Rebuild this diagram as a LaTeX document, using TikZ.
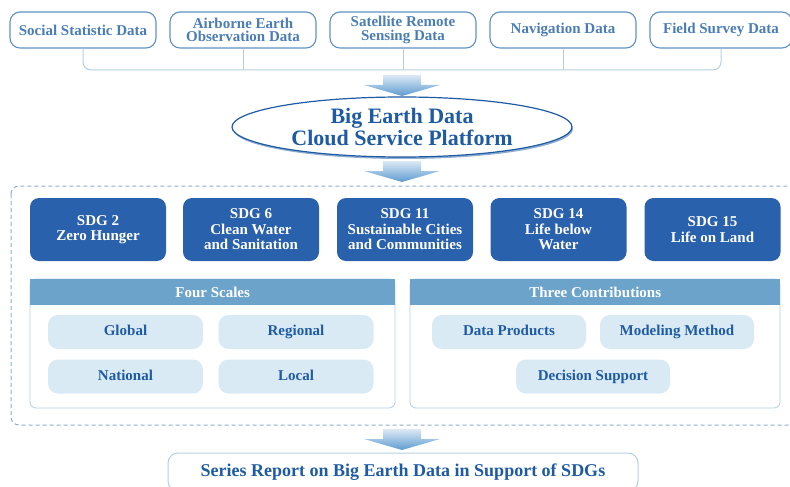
\documentclass[tikz,border=0pt]{standalone}
\usepackage{fontspec}
\setmainfont{Liberation Serif}
\usetikzlibrary{arrows.meta,shapes.geometric,shadows,calc}
\definecolor{OutBlue}{HTML}{5F92C4}
\definecolor{SrcText}{HTML}{4A7DB6}
\definecolor{TextBlue}{HTML}{1F5BA3}
\definecolor{BoxBlue}{HTML}{2A61AD}
\definecolor{HeadBlue}{HTML}{6CA3CB}
\definecolor{PillBlue}{HTML}{D9EAF5}
\definecolor{LineBlue}{HTML}{B3CFE4}
\definecolor{DashBlue}{HTML}{8DAECF}
\definecolor{ArrowLight}{HTML}{DCE9F5}
\definecolor{ArrowDark}{HTML}{5E9BD0}
\newcommand{\flowarrow}[1]{%
  \shade[top color=ArrowLight,bottom color=ArrowDark]
    ($(#1)+(-19,0)$) -- ($(#1)+(19,0)$) -- ($(#1)+(19,10)$) -- ($(#1)+(38,10)$)
    -- ($(#1)+(0,21)$) -- ($(#1)+(-38,10)$) -- ($(#1)+(-19,10)$) -- cycle;}

\begin{document}
\begin{tikzpicture}[x=1pt,y=-1pt,
    srcbox/.style={draw=OutBlue,line width=1.1pt,rounded corners=10pt,
      minimum width=146pt,minimum height=36pt,inner sep=0pt,align=center,
      text=SrcText,font=\bfseries\fontsize{15}{13.5}\selectfont},
    sdgbox/.style={fill=BoxBlue,rounded corners=9pt,minimum width=136pt,
      minimum height=63pt,inner sep=0pt,align=center,text=white,
      font=\bfseries\fontsize{15}{15.5}\selectfont},
    panel/.style={draw=LineBlue,line width=0.8pt,rounded corners=6pt,fill=white},
    header/.style={fill=HeadBlue,minimum height=26pt,inner sep=0pt,text=white,
      font=\bfseries\fontsize{15}{15}\selectfont},
    pill/.style={fill=PillBlue,rounded corners=10pt,minimum width=155pt,
      minimum height=34pt,inner sep=0pt,text height=10pt,text depth=3pt,text=TextBlue,
      font=\bfseries\fontsize{15}{15}\selectfont},
    conn/.style={draw=LineBlue,line width=1pt}]
    \useasboundingbox (0,0) rectangle (790,487);

%   data sources
    \node[srcbox] (social) at (83,30) {Social Statistic Data};
    \node[srcbox] (airborne) at (243,30) {Airborne Earth\\Observation Data};
    \node[srcbox] (satellite) at (403,30) {Satellite Remote\\Sensing Data};
    \node[srcbox] (navigation) at (563,30) {Navigation Data};
    \node[srcbox,minimum width=142pt] (field) at (721,30) {Field Survey Data};
    \coordinate (bus) at (0,70);
    \draw[conn,rounded corners=8pt] (social.south) |- (bus -| satellite.south) -| (field.south);
    \foreach \n in {airborne,satellite,navigation} {
        \draw[conn] (\n.south) -- (bus -| \n.south);
    }

%   platform
    \coordinate (arrA) at (402,75);
    \flowarrow{arrA}
    \node[ellipse,draw=TextBlue,line width=1.2pt,fill=white,minimum width=340pt,
      minimum height=60pt,inner sep=0pt,align=center,text=TextBlue,
      font=\bfseries\fontsize{22}{20}\selectfont,
      drop shadow={shadow xshift=1pt,shadow yshift=-2pt,fill=TextBlue,opacity=0.5}]
      (platform) at (402,127) {Big Earth Data\\Cloud Service Platform};
    \coordinate (arrB) at (402,161);
    \flowarrow{arrB}

%   SDGs frame
    \draw[DashBlue,line width=1pt,dash pattern=on 4pt off 3pt,rounded corners=8pt]
      (11,186) rectangle (796,425);
    \node[sdgbox] (sdg2) at (98,229.5) {SDG 2\\Zero Hunger};
    \node[sdgbox] (sdg6) at (251,229.5) {SDG 6\\Clean Water\\and Sanitation};
    \node[sdgbox] (sdg11) at (405,229.5) {SDG 11\\Sustainable Cities\\and Communities};
    \node[sdgbox] (sdg14) at (558.5,229.5) {SDG 14\\Life below\\Water};
    \node[sdgbox] (sdg15) at (712.5,229.5) {SDG 15\\Life on Land};

%   four scales
    \draw[panel] (30,279) rectangle (395,408);
    \node[header,minimum width=365pt,anchor=north west] (scales) at (30,279) {Four Scales};
    \node[pill] (global) at (125.5,332) {Global};
    \node[pill] (regional) at (296,332) {Regional};
    \node[pill] (national) at (125.5,376.5) {National};
    \node[pill] (local) at (296,376.5) {Local};

%   three contributions
    \draw[panel] (410,279) rectangle (780,408);
    \node[header,minimum width=370pt,anchor=north west] (contrib) at (410,279) {Three Contributions};
    \node[pill,minimum width=154pt] (products) at (509,332) {Data Products};
    \node[pill,minimum width=154pt] (modeling) at (677,332) {Modeling Method};
    \node[pill,minimum width=154pt] (decision) at (593,376.5) {Decision Support};

%   report
    \coordinate (arrC) at (402,429);
    \flowarrow{arrC}
    \node[draw=LineBlue,line width=1pt,rounded corners=10pt,minimum width=470pt,
      minimum height=38pt,inner sep=0pt,text=TextBlue,
      font=\bfseries\fontsize{18}{18}\selectfont]
      (report) at (403,472) {Series Report on Big Earth Data in Support of SDGs};
\end{tikzpicture}
\end{document}
